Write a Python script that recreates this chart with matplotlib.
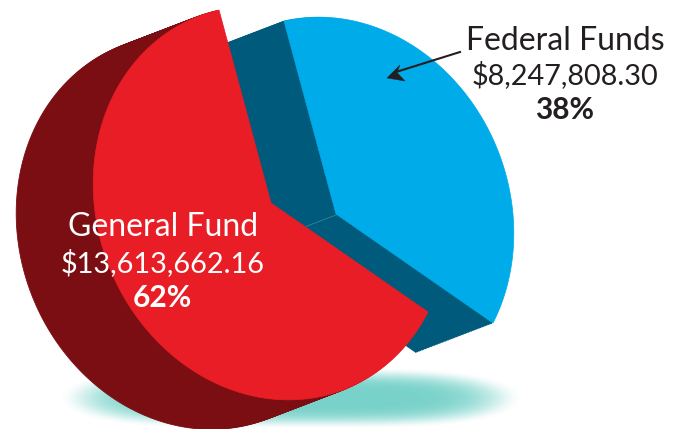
#!/usr/bin/env python3
import numpy as np
import matplotlib; matplotlib.use("Agg"); import matplotlib.pyplot as plt
from matplotlib.patches import Polygon

funds = ["General Fund", "Federal Funds"]
amounts = [13613662.16, 8247808.30]
amount_labels = ["$13,613,662.16", "$8,247,808.30"]
pct_labels = ["62%", "38%"]

W, H = 673, 429
RED, DRED, BLUE, DBLUE = "#e91d25", "#7a0e13", "#00abe9", "#005a7c"
INK = "#231f20"

# ellipse of the tilted disc, from the two radii of the cut (pixels)
v1 = np.array([-52.0, -193.0]); v2 = np.array([157.0, 109.0])
share = amounts[1] / sum(amounts)
th = 2 * np.pi * share
th0 = np.deg2rad(135.0)  # cut angle once foreshortened by the tilt

def warp(t):
    return np.where(t <= th, t * th0 / th, th0 + (t - th) * (2 * np.pi - th0) / (2 * np.pi - th))

def rim(t):
    u = warp(t)
    return (v1[None, :] * np.sin(th0 - u)[:, None] + v2[None, :] * np.sin(u)[:, None]) / np.sin(th0)

def slice_xy(c, a, b, off=(0, 0)):
    t = np.linspace(a, b, 200)
    return np.vstack([np.array(c) + off, rim(t) + np.array(c) + off])

def solid(c, a, b, col, z):
    for s in np.linspace(1, 0.02, 50):
        xy = slice_xy(c, a, b, (OFF[0] * s, OFF[1] * s))
        ax.add_patch(Polygon(xy, closed=True, fc=col, ec=col, lw=0.6, zorder=z))

OFF = (-77.0, 29.5)
cb = (336, 214); cr = (271, 203)

fig = plt.figure(figsize=(W / 100, H / 100), dpi=100)
ax = fig.add_axes([0, 0, 1, 1])

# soft shadow under the disc
xx, yy = np.meshgrid(np.arange(W) + .5, np.arange(H) + .5)
d = (np.abs(xx - 291) / 232) ** 4 + (np.abs(yy - 398) / 31) ** 2
a = np.clip((1 - d) / 0.95, 0, 1); a = a * a * (3 - 2 * a)
img = np.zeros((H, W, 4)); img[..., :3] = matplotlib.colors.to_rgb("#78d2ca"); img[..., 3] = a
ax.imshow(img, extent=(0, W, H, 0), zorder=1, interpolation="bilinear")
ax.set_xlim(0, W); ax.set_ylim(H, 0); ax.set_aspect("auto"); ax.axis("off")

solid(cb, 0, th, DBLUE, 2)
ax.plot([cb[0], cb[0] - 30], [cb[1] + 1, cb[1] + 12.5], color="#3f8aa6", lw=0.5, zorder=2.5)
ax.add_patch(Polygon(slice_xy(cb, 0, th), closed=True, fc=BLUE, ec=BLUE, lw=0.5, zorder=3))
solid(cr, th, 2 * np.pi, DRED, 4)
ax.add_patch(Polygon(slice_xy(cr, th, 2 * np.pi), closed=True, fc=RED, ec=RED, lw=0.5, zorder=5))

font = "Lato"
ax.text(163, 236, funds[0], color="white", fontsize=23, ha="center", va="baseline", family=font, zorder=6)
ax.text(163, 272, amount_labels[0], color="white", fontsize=20.8, ha="center", va="baseline", family=font, zorder=6)
ax.text(162, 307, pct_labels[0], color="white", fontsize=21.5, weight="bold", ha="center", va="baseline", family=font, zorder=6)
ax.text(565, 50, funds[1], color=INK, fontsize=23, ha="center", va="baseline", family=font, zorder=6)
ax.text(565, 84, amount_labels[1], color=INK, fontsize=20.8, ha="center", va="baseline", family=font, zorder=6)
ax.text(565, 119, pct_labels[1], color=INK, fontsize=21.5, weight="bold", ha="center", va="baseline", family=font, zorder=6)

# arrow with a swept-back head
ax.plot([460, 396], [52, 79 - 7], color=INK, lw=1.5, zorder=6)
ax.add_patch(Polygon([(387, 78), (400, 65), (397, 72.5), (405, 81)], closed=True, fc=INK, ec=INK, lw=0.3, zorder=6))

fig.savefig("out.png", dpi=100)
